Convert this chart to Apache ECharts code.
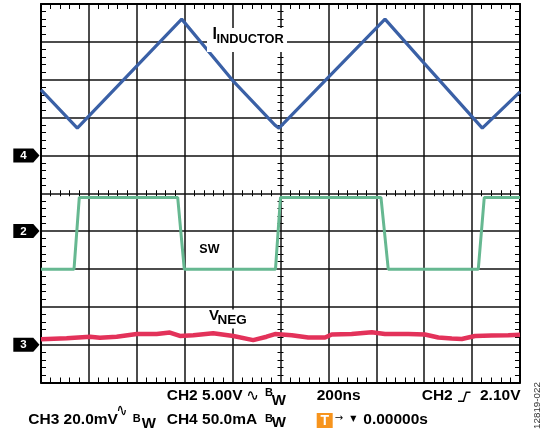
<!DOCTYPE html>
<html><head><meta charset="utf-8">
<script src="https://cdn.jsdelivr.net/npm/echarts@6/dist/echarts.min.js"></script>
<style>html,body{margin:0;padding:0;background:#fff;}#c{width:551px;height:437px;}</style>
</head><body><div id="c"></div>
<script>
// ---- data (time in ns, amplitude in screen divisions, 0 = centre line) ----
const inductorT   = [0, 151.6, 587.5, 798.8, 977, 993.7, 1202.5, 1436.3, 1600.4, 1842.6, 2000];
const inductorDiv = [2.73, 1.72, 4.60, 2.99, 1.80, 1.72, 3.08, 4.60, 3.43, 1.72, 2.68];
const swT   = [0, 137.8, 159.9, 570.7, 598.3, 979, 1000, 1419.5, 1450, 1825.8, 1850.8, 2000];
const swDiv = [-2.01, -2.01, -0.11, -0.11, -2.01, -2.01, -0.11, -0.11, -2.01, -2.01, -0.11, -0.11];
const vnegT   = [0, 107, 205, 246, 316, 400, 483, 538, 580, 636, 719, 803, 886, 942, 977, 1047, 1116, 1186, 1214, 1297, 1381, 1436, 1534, 1603, 1659, 1715, 1757, 1812, 1882, 1951, 2000];
const vnegDiv = [-3.86, -3.83, -3.79, -3.82, -3.79, -3.72, -3.72, -3.68, -3.77, -3.75, -3.70, -3.77, -3.88, -3.79, -3.72, -3.75, -3.81, -3.81, -3.73, -3.72, -3.67, -3.72, -3.72, -3.73, -3.81, -3.84, -3.85, -3.77, -3.76, -3.75, -3.74];
const channelNames  = ['4', '2', '3'];
const channelLevels = [1, -1, -4];
const timeTicks = [0, 200, 400, 600, 800, 1000, 1200, 1400, 1600, 1800, 2000];

const zip = (a, b) => a.map((v, i) => [v, b[i]]);
const FONT = '"Liberation Sans", Arial, "DejaVu Sans", sans-serif';
const SYM = '"DejaVu Sans", sans-serif';

const GL = 41, GT = 4, GW = 479, GH = 378.5;
function xAx(extra) {
  return Object.assign({
    type: 'value', min: timeTicks[0], max: timeTicks[timeTicks.length - 1], interval: timeTicks[1] - timeTicks[0],
    axisLabel: { show: false }, splitLine: { show: false },
    axisLine: { show: true, onZero: false, lineStyle: { color: '#000', width: 2 } },
    axisTick: { show: false, inside: true },
    minorTick: { show: true, splitNumber: 5, length: 5, lineStyle: { color: '#000', width: 1 } }
  }, extra);
}
function yAx(extra) {
  return Object.assign({
    type: 'value', min: -5, max: 5, interval: 1,
    axisLabel: { show: false }, splitLine: { show: false },
    axisLine: { show: true, onZero: false, lineStyle: { color: '#000', width: 2 } },
    axisTick: { show: false, inside: true },
    minorTick: { show: true, splitNumber: 5, length: 5, lineStyle: { color: '#000', width: 1 } }
  }, extra);
}
const centreTick = (inside) => ({ axisLine: { show: false, onZero: false }, axisTick: { show: false, inside: inside }, minorTick: { show: true, splitNumber: 5, length: 3, lineStyle: { color: '#000', width: 1 } } });
const chart = echarts.init(document.getElementById('c'), null, { renderer: 'canvas' });
chart.setOption({
  animation: false,
  backgroundColor: '#fff',
  grid: { left: GL, top: GT, width: GW, height: GH, containLabel: false, outerBoundsMode: 'none' },
  xAxis: [
    xAx({ position: 'bottom', splitLine: { show: true, lineStyle: { color: '#111', width: 1.5 } } }),
    xAx({ position: 'top' }),
    xAx(Object.assign({ position: 'bottom', offset: -GH / 2 }, centreTick(true))),
    xAx(Object.assign({ position: 'bottom', offset: -GH / 2 }, centreTick(false)))
  ],
  yAxis: [
    yAx({ position: 'left', splitLine: { show: true, lineStyle: { color: '#111', width: 1.5 } } }),
    yAx({ position: 'right' }),
    yAx(Object.assign({ position: 'left', offset: -GW / 2 }, centreTick(true))),
    yAx(Object.assign({ position: 'left', offset: -GW / 2 }, centreTick(false)))
  ],
  series: [
    { name: 'IINDUCTOR', type: 'line', data: zip(inductorT, inductorDiv), showSymbol: false, lineStyle: { color: '#3a60a6', width: 3.2 }, z: 3 },
    { name: 'SW', type: 'line', data: zip(swT, swDiv), showSymbol: false, lineStyle: { color: '#66b891', width: 3 }, z: 3 },
    { name: 'VNEG', type: 'line', data: zip(vnegT, vnegDiv), showSymbol: false, lineStyle: { color: '#e3325a', width: 4.5 }, z: 3 }
  ]
});

function txt(t, x, y, size, opts) {
  opts = opts || {};
  return {
    type: 'text', x: x, y: y, z: 20, rotation: opts.rotation || 0,
    style: {
      text: t, fill: opts.fill || '#000',
      font: (opts.weight || 'bold') + ' ' + size + 'px ' + (opts.family || FONT),
      textAlign: opts.align || 'left', textVerticalAlign: 'middle', verticalAlign: 'middle'
    }
  };
}
function wave(x, y, w, h) {
  // small sine-wave (AC coupling) glyph made of two bezier halves
  const st = { stroke: '#000', lineWidth: 1.3, fill: null };
  return [
    { type: 'bezierCurve', z: 20, shape: { x1: x, y1: y + h * 0.55, cpx1: x + w * 0.1, cpy1: y - h * 0.05, cpx2: x + w * 0.35, cpy2: y - h * 0.05, x2: x + w * 0.5, y2: y + h * 0.5 }, style: st },
    { type: 'bezierCurve', z: 20, shape: { x1: x + w * 0.5, y1: y + h * 0.5, cpx1: x + w * 0.65, cpy1: y + h * 1.05, cpx2: x + w * 0.9, cpy2: y + h * 1.05, x2: x + w, y2: y + h * 0.45 }, style: st }
  ];
}
const g = [];
// white label backgrounds
g.push({ type: 'rect', z: 15, shape: { x: 207, y: 28, width: 80, height: 24 }, style: { fill: '#fff' } });
g.push({ type: 'rect', z: 15, shape: { x: 207, y: 309.5, width: 44, height: 19 }, style: { fill: '#fff' } });
g.push(txt('I', 212.5, 34.5, 16));
g.push(txt('INDUCTOR', 216.5, 39, 12.8));
g.push(txt('SW', 199.3, 249.3, 12.5));
g.push(txt('V', 209, 316.3, 15));
g.push(txt('NEG', 217.5, 320.7, 13.5));
// status lines
g.push(txt('CH2 5.00V', 166.7, 396, 15.5));
g.push.apply(g, wave(248.5, 391, 8.2, 9));
g.push(txt('B', 265, 392.5, 11));
g.push(txt('W', 271.7, 401.3, 15));
g.push(txt('200ns', 316.7, 396, 15.5));
g.push(txt('CH2', 421.7, 396, 15.5));
g.push({ type: 'polyline', z: 20, shape: { points: [[458, 401.3], [463.5, 401.3], [466.3, 392.3], [470.5, 392.3]] }, style: { stroke: '#000', lineWidth: 1.4, fill: null } });
g.push(txt('2.10V', 480, 396, 15.5));
g.push(txt('CH3 20.0mV', 28.3, 420.2, 15.5));
g.push.apply(g, wave(118.5, 405.5, 6.8, 10));
g.push(txt('B', 132.7, 418.5, 11));
g.push(txt('W', 141.7, 423.8, 15));
g.push(txt('CH4 50.0mA', 166.7, 420.2, 15.5));
g.push(txt('B', 265, 418.5, 11));
g.push(txt('W', 271.7, 422.5, 15));
g.push({ type: 'rect', z: 19, shape: { x: 316.7, y: 413, width: 16, height: 15 }, style: { fill: '#f7941d' } });
g.push(txt('T', 324.7, 420.8, 14, { fill: '#fff', align: 'center' }));
g.push(txt('\u2192', 334.8, 418.3, 10, { weight: 'normal', family: SYM }));
g.push(txt('\u25BC', 350.3, 419, 8, { weight: 'normal', family: SYM }));
g.push(txt('0.00000s', 363.3, 420.2, 15.5));
g.push(txt('12819-022', 537.5, 405.5, 9.8, { weight: 'normal', fill: '#333', align: 'center', rotation: Math.PI / 2 }));
// channel reference markers at their levels on the y axis
channelNames.forEach((name, i) => {
  const y = chart.convertToPixel({ yAxisIndex: 0 }, channelLevels[i]);
  g.push({ type: 'polygon', z: 20, shape: { points: [[13.3, y - 7], [33.3, y - 7], [39.5, y], [33.3, y + 7], [13.3, y + 7]] }, style: { fill: '#000' } });
  g.push(txt(name, 23.5, y + 0.3, 11.5, { fill: '#fff', align: 'center' }));
});
chart.setOption({ graphic: g });
</script></body></html>
